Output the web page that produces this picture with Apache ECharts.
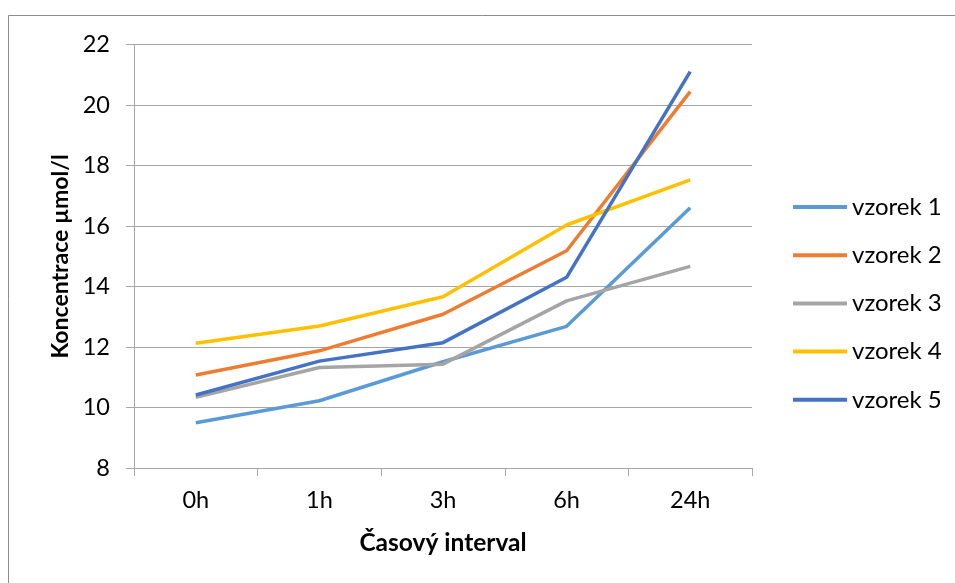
<!DOCTYPE html>
<html>
<head>
<meta charset="utf-8">
<script src="https://cdn.jsdelivr.net/npm/echarts@6/dist/echarts.min.js"></script>
<style>html,body{margin:0;padding:0;background:#fff}#c{width:955px;height:583px}</style>
</head>
<body>
<div id="c"></div>
<script>
const categories = ['0h', '1h', '3h', '6h', '24h'];
const seriesNames = ['vzorek 1', 'vzorek 2', 'vzorek 3', 'vzorek 4', 'vzorek 5'];
const vzorek1 = [9.5, 10.23, 11.52, 12.69, 16.61];
const vzorek2 = [11.08, 11.88, 13.09, 15.19, 20.45];
const vzorek3 = [10.34, 11.33, 11.44, 13.53, 14.67];
const vzorek4 = [12.13, 12.7, 13.67, 16.04, 17.53];
const vzorek5 = [10.42, 11.54, 12.15, 14.31, 21.11];
const colors = ['#5B9BD5', '#ED7D31', '#A5A5A5', '#FFC000', '#4472C4'];
const yTicks = {min: 8, max: 22, interval: 2};
const xTitle = 'Časový interval';
const yTitle = 'Koncentrace µmol/l';

const allData = [vzorek1, vzorek2, vzorek3, vzorek4, vzorek5];
const FONT = 'Lato';
const chart = echarts.init(document.getElementById('c'), null, {renderer: 'canvas'});
chart.setOption({
  animation: false,
  backgroundColor: '#fff',
  color: colors,
  textStyle: {fontFamily: FONT},
  graphic: [{
    type: 'rect', shape: {x: 8.5, y: 15.5, width: 1200, height: 1200},
    style: {fill: 'none', stroke: '#8c8c8c', lineWidth: 1}, silent: true
  }],
  grid: {left: 134, right: 203, top: 44.7, bottom: 114.8, containLabel: false},
  legend: {
    orient: 'vertical', left: 793, top: 195, padding: 0,
    icon: 'rect', itemWidth: 54, itemHeight: 4, itemGap: 24.2,
    textStyle: {fontFamily: FONT, fontSize: 24, color: '#000', lineHeight: 24},
    data: seriesNames
  },
  xAxis: {
    type: 'category', data: categories, boundaryGap: true,
    name: xTitle, nameLocation: 'middle', nameGap: 62,
    nameTextStyle: {fontFamily: FONT, fontWeight: 'bold', fontSize: 24.5, color: '#000'},
    axisLine: {show: true, lineStyle: {color: '#a6a6a6', width: 1}},
    axisTick: {show: true, length: 8, lineStyle: {color: '#a6a6a6'}},
    axisLabel: {fontFamily: FONT, fontSize: 23.5, color: '#000', margin: 20}
  },
  yAxis: {
    type: 'value', min: yTicks.min, max: yTicks.max, interval: yTicks.interval,
    name: yTitle, nameLocation: 'middle', nameGap: 57, nameRotate: 90,
    nameTextStyle: {fontFamily: FONT, fontWeight: 'bold', fontSize: 23, color: '#000'},
    axisLine: {show: true, lineStyle: {color: '#a6a6a6', width: 1}},
    axisTick: {show: true, length: 8, lineStyle: {color: '#a6a6a6'}},
    splitLine: {show: true, lineStyle: {color: '#a6a6a6', width: 1}},
    axisLabel: {fontFamily: FONT, fontSize: 23.5, color: '#000', margin: 24}
  },
  series: seriesNames.map((n, i) => ({
    name: n, type: 'line', data: allData[i], symbol: 'none', smooth: false,
    lineStyle: {width: 3.5, color: colors[i]}, itemStyle: {color: colors[i]}
  }))
});
</script>
</body>
</html>
